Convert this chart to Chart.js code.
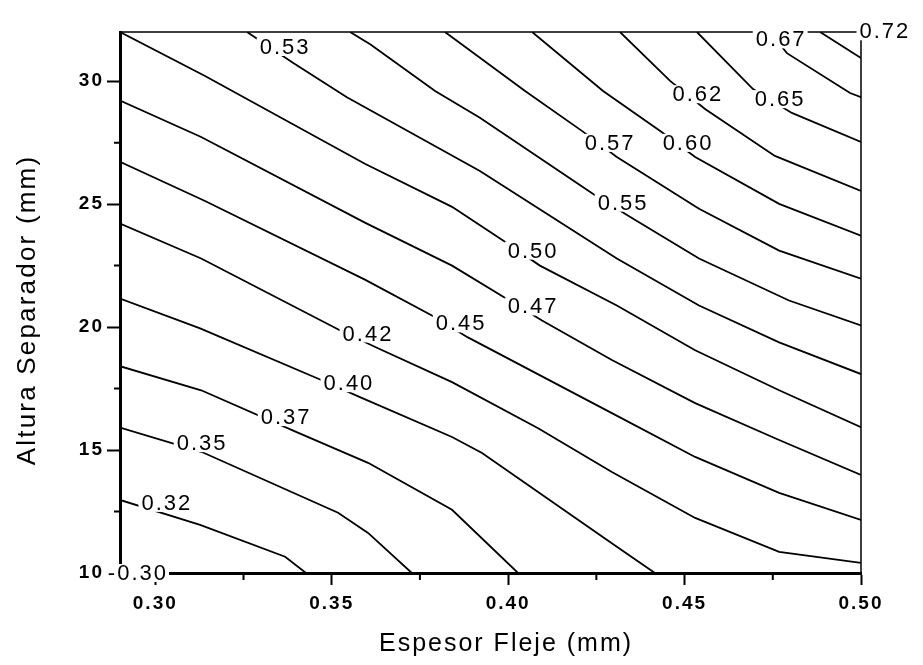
<!DOCTYPE html>
<html>
<head>
<meta charset="utf-8">
<script src="https://cdn.jsdelivr.net/npm/chart.js@4.4.1/dist/chart.umd.min.js"></script>
<style>
  html, body { margin: 0; padding: 0; background: #fff; }
</style>
</head>
<body>
<canvas id="myChart" width="923" height="665"></canvas>
<script>
// iso-lines, one x list and one y list per level
const c0325x = [0.290, 0.3127, 0.3368, 0.3427];
const c0325y = [12.97, 11.96, 10.66, 10.0];
const c0350x = [0.290, 0.3132, 0.3518, 0.3603, 0.3727];
const c0350y = [15.91, 14.92, 12.45, 11.63, 10.0];
const c0375x = [0.290, 0.3130, 0.3399, 0.3603, 0.3841, 0.4028];
const c0375y = [18.41, 17.43, 15.74, 14.48, 12.57, 10.0];
const c0400x = [0.290, 0.3127, 0.3472, 0.3580, 0.3841, 0.3926, 0.4308, 0.4416];
const c0400y = [21.16, 19.95, 17.84, 17.15, 15.53, 14.88, 11.07, 10.0];
const c0425x = [0.290, 0.3130, 0.3523, 0.3631, 0.3841, 0.4085, 0.4294, 0.4530, 0.4768, 0.500];
const c0425y = [24.21, 22.79, 19.87, 19.14, 17.76, 15.89, 14.11, 12.24, 10.86, 10.41];
const c0450x = [0.290, 0.3141, 0.3594, 0.3784, 0.3886, 0.4294, 0.4530, 0.4768, 0.500];
const c0450y = [26.72, 25.13, 21.93, 20.47, 19.58, 16.50, 14.72, 13.26, 12.16];
const c0475x = [0.290, 0.3130, 0.3594, 0.3841, 0.3985, 0.4096, 0.4294, 0.4530, 0.4768, 0.500];
const c0475y = [29.21, 27.73, 24.25, 22.50, 21.24, 20.27, 18.66, 16.91, 15.41, 13.99];
const c0500x = [0.290, 0.3141, 0.3594, 0.3841, 0.3991, 0.4090, 0.4308, 0.4530, 0.4768, 0.500];
const c0500y = [32.0, 30.21, 26.64, 24.89, 23.47, 22.50, 20.88, 19.06, 17.43, 15.93];
const c0525x = [0.3260, 0.3390, 0.3543, 0.3920, 0.4308, 0.4541, 0.4768, 0.500];
const c0525y = [32.0, 30.75, 29.35, 26.35, 22.79, 20.88, 19.38, 18.09];
const c0550x = [0.3552, 0.3609, 0.3793, 0.3920, 0.4240, 0.4345, 0.4541, 0.4796, 0.500];
const c0550y = [32.0, 31.50, 29.60, 28.51, 25.42, 24.49, 22.79, 21.08, 20.07];
const c0575x = [0.3821, 0.4048, 0.4209, 0.4308, 0.4541, 0.4768, 0.500];
const c0575y = [32.0, 29.60, 27.98, 26.92, 24.81, 23.11, 21.97];
const c0600x = [0.4068, 0.4269, 0.4430, 0.4530, 0.4768, 0.500];
const c0600y = [32.0, 29.60, 27.98, 26.92, 25.01, 23.72];
const c0625x = [0.4317, 0.4459, 0.4558, 0.4756, 0.500];
const c0625y = [32.0, 30.01, 28.87, 26.96, 25.54];
const c0650x = [0.4535, 0.4694, 0.4804, 0.500];
const c0650y = [32.0, 29.68, 28.71, 27.53];
const c0675x = [0.4742, 0.4790, 0.4969, 0.500];
const c0675y = [32.0, 31.14, 29.52, 29.35];
const c0700x = [0.4884, 0.500];
const c0700y = [32.0, 30.94];

// inline labels of the iso-lines
const labelText = ['-0.30', '0.32', '0.35', '0.37', '0.40', '0.42', '0.45', '0.47', '0.50',
                   '0.53', '0.55', '0.57', '0.60', '0.62', '0.65', '0.67', '0.72'];
const labelX = [0.2948, 0.3030, 0.3130, 0.3368, 0.3546, 0.3600, 0.3864, 0.4068, 0.4068,
                0.3365, 0.4323, 0.4286, 0.4507, 0.4535, 0.4768, 0.4771, 0.5065];
const labelY = [10.0, 12.85, 15.28, 16.34, 17.72, 19.74, 20.15, 20.84, 23.11,
                31.39, 25.06, 27.49, 27.49, 29.47, 29.27, 31.70, 32.03];

const xTicks = [0.30, 0.35, 0.40, 0.45, 0.50];
const yTicks = [10, 15, 20, 25, 30];
const xMinor = [0.325, 0.375, 0.425, 0.475];
const yMinor = [12.5, 17.5, 22.5, 27.5];

const xTitle = 'Espesor Fleje (mm)';
const yTitle = 'Altura Separador (mm)';

const lines = [
  [c0325x, c0325y], [c0350x, c0350y], [c0375x, c0375y], [c0400x, c0400y],
  [c0425x, c0425y], [c0450x, c0450y], [c0475x, c0475y], [c0500x, c0500y],
  [c0525x, c0525y], [c0550x, c0550y], [c0575x, c0575y], [c0600x, c0600y],
  [c0625x, c0625y], [c0650x, c0650y], [c0675x, c0675y], [c0700x, c0700y],
];

const family = '"Liberation Sans", Arial, sans-serif';

const datasets = lines.map(l => ({
  data: l[0].map((v, i) => ({ x: v, y: l[1][i] })),
  borderColor: '#000',
  borderWidth: 1.8,
  pointRadius: 0,
  tension: 0,
  fill: false,
}));

const decor = {
  id: 'decor',
  beforeDraw(chart) {
    chart.ctx.letterSpacing = '2px';
  },
  beforeDatasetsDraw(chart) {
    const { ctx, chartArea: a, scales: { x, y } } = chart;
    ctx.save();
    ctx.strokeStyle = '#000';
    ctx.lineWidth = 1.5;
    ctx.beginPath();
    ctx.moveTo(a.left, a.top);
    ctx.lineTo(a.right, a.top);
    ctx.lineTo(a.right, a.bottom);
    ctx.stroke();
    // minor ticks
    ctx.lineWidth = 2;
    ctx.beginPath();
    xMinor.forEach(v => {
      const px = x.getPixelForValue(v);
      ctx.moveTo(px, a.bottom);
      ctx.lineTo(px, a.bottom + 7);
    });
    yMinor.forEach(v => {
      const py = y.getPixelForValue(v);
      ctx.moveTo(a.left, py);
      ctx.lineTo(a.left - 6, py);
    });
    ctx.stroke();
    ctx.restore();
  },
  afterDatasetsDraw(chart) {
    const { ctx, scales: { x, y } } = chart;
    ctx.save();
    ctx.font = '22px ' + family;
    ctx.letterSpacing = '2px';
    ctx.textAlign = 'center';
    ctx.textBaseline = 'middle';
    labelText.forEach((t, i) => {
      const px = x.getPixelForValue(labelX[i]);
      const py = y.getPixelForValue(labelY[i]);
      const w = ctx.measureText(t).width;
      ctx.fillStyle = '#fff';
      ctx.fillRect(px - w / 2 - 2, py - 9, w + 4, 18);
      ctx.fillStyle = '#000';
      ctx.fillText(t, px + 1, py + 1);
    });

    // axis titles
    ctx.fillStyle = '#000';
    ctx.font = '25px ' + family;
    ctx.letterSpacing = '2px';
    ctx.fillText(xTitle, 506, 644);
    ctx.font = '26px ' + family;
    ctx.letterSpacing = '2.2px';
    ctx.translate(28, 311);
    ctx.rotate(-Math.PI / 2);
    ctx.fillText(yTitle, 1, 0);
    ctx.restore();
  },
};

const config = {
  type: 'line',
  data: { datasets: datasets },
  options: {
    responsive: false,
    animation: false,
    events: [],
    layout: { padding: { top: 32, right: 62, left: 0, bottom: 0 } },
    plugins: { legend: { display: false }, tooltip: { enabled: false } },
    scales: {
      x: {
        type: 'linear',
        min: 0.29,
        max: 0.50,
        afterBuildTicks: s => { s.ticks = xTicks.map(v => ({ value: v })); },
        afterFit: s => { s.height = 92; },
        ticks: {
          callback: v => v.toFixed(2),
          font: { family: family, size: 19, weight: 'bold' },
          color: '#000',
          padding: 7,
          maxRotation: 0,
          autoSkip: false,
        },
        grid: { drawOnChartArea: false, tickLength: 12, tickWidth: 2, tickColor: '#000', color: '#000' },
        border: { width: 3, color: '#000' },
      },
      y: {
        type: 'linear',
        min: 10,
        max: 32,
        afterBuildTicks: s => { s.ticks = yTicks.map(v => ({ value: v })); },
        afterFit: s => { s.width = 120; },
        ticks: {
          callback: v => String(v),
          font: { family: family, size: 19, weight: 'bold' },
          color: '#000',
          padding: 3,
          autoSkip: false,
        },
        grid: { drawOnChartArea: false, tickLength: 13, tickWidth: 2, tickColor: '#000', color: '#000' },
        border: { width: 3, color: '#000' },
      },
    },
  },
  plugins: [decor],
};

const myChart = new Chart(document.getElementById('myChart'), config);
</script>
</body>
</html>
